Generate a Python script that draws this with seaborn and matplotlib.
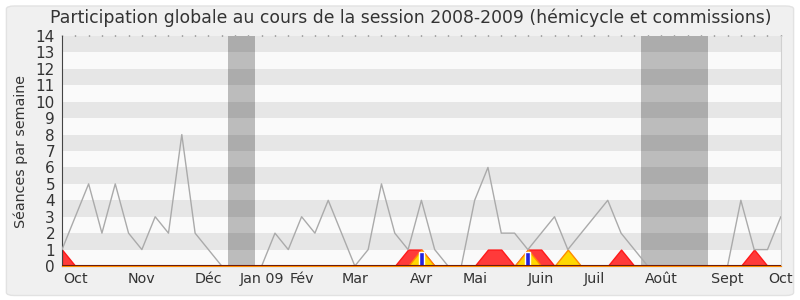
import numpy as np
import pandas as pd
import seaborn as sns
import matplotlib
matplotlib.use("Agg")
import matplotlib.pyplot as plt
from matplotlib.patches import FancyBboxPatch

nan = np.nan

# ---- data ----
weeks = list(range(55))
median_presence = [1, 3, 5, 2, 5, 2, 1, 3, 2, 8, 2, 1, 0, nan, nan,
                   0, 2, 1, 3, 2, 4, 2, 0, 1, 5, 2, 1, 4, 1, 0,
                   0, 4, 6, 2, 2, 1, 2, 3, 1, 2, 3, 4, 2, 1, 0,
                   nan, nan, nan, nan, nan, 0, 4, 1, 1, 3]
commission = [1, 0, 0, 0, 0, 0, 0, 0, 0, 0, 0, 0, 0, 0, 0,
              0, 0, 0, 0, 0, 0, 0, 0, 0, 0, 0, 1, 1, 0, 0,
              0, 0, 1, 1, 0, 1, 1, 0, 0, 0, 0, 0, 1, 0, 0,
              0, 0, 0, 0, 0, 0, 0, 1, 0, 0]
hemicycle = [0, 0, 0, 0, 0, 0, 0, 0, 0, 0, 0, 0, 0, 0, 0,
             0, 0, 0, 0, 0, 0, 0, 0, 0, 0, 0, 0, 1, 0, 0,
             0, 0, 0, 0, 0, 1, 0, 0, 1, 0, 0, 0, 0, 0, 0,
             0, 0, 0, 0, 0, 0, 0, 0, 0, 0]
interventions_weeks = [27, 35]
interventions_vals = [0.85, 0.85]
vacations = [(12.5, 14.5), (43.5, 48.5)]
month_labels = ["Oct", "Nov", "Déc", "Jan 09", "Fév", "Mar", "Avr", "Mai",
                "Juin", "Juil", "Août", "Sept", "Oct"]
month_pos = [1, 6, 11, 15, 18, 22, 27, 31, 36, 40, 45, 50, 54]

# segments for the median line (gaps preserved)
seg = []
s = 0
prev_nan = False
for v in median_presence:
    if np.isnan(v):
        prev_nan = True
        seg.append(-1)
    else:
        if prev_nan:
            s += 1
        prev_nan = False
        seg.append(s)
df = pd.DataFrame({"week": weeks, "val": median_presence, "seg": seg}).dropna()

sns.set_style("white")
plt.rcParams["font.family"] = ["DejaVu Sans"]

fig = plt.figure(figsize=(8, 3), dpi=100)
fig.patch.set_facecolor("white")
fig.patches.append(FancyBboxPatch((0.008, 0.015), 0.984, 0.965,
                                  boxstyle="round,pad=0,rounding_size=0.01",
                                  transform=fig.transFigure, facecolor="#f0f0f0",
                                  edgecolor="#e2e2e2", linewidth=1, zorder=-10))
ax = fig.add_axes([0.0775, 0.1133, 0.8985, 0.7667])
ax.set_facecolor("#fafafa")

ax.set_xlim(0, 54)
ax.set_ylim(0, 14)

# stripes
for y0 in range(1, 14, 2):
    ax.axhspan(y0, y0 + 1, color="#e6e6e6", lw=0, zorder=0)
# vacations
for (a, b) in vacations:
    ax.axvspan(a, b, color="#bcbcbc", lw=0, zorder=0.5)
    for y0 in range(1, 14, 2):
        ax.fill_between([a, b], y0, y0 + 1, color="#acacac", lw=0, zorder=0.6)

# fills
ax.fill_between(weeks, 0, commission, color="#ff3a3a", edgecolor="#ff1a1a",
                lw=1, zorder=2)
ax.fill_between(weeks, 0, hemicycle, color="#ffd700", edgecolor="#ff8c00",
                lw=1, zorder=3)
ax.bar(interventions_weeks, interventions_vals, width=0.36, color="#2424dd",
       zorder=4)

sns.lineplot(data=df, x="week", y="val", units="seg", estimator=None,
             color="#aaaaaa", lw=1, ax=ax, zorder=5)

ax.axhline(0, color="#6e1c0c", lw=1.5, zorder=6)

# axes styling
ax.spines["top"].set_visible(False)
ax.spines["right"].set_color("#d0d0d0")
ax.spines["left"].set_color("#444444")
ax.spines["bottom"].set_color("#6e1c0c")

ax.set_yticks(range(0, 15))
ax.set_yticklabels([str(i) for i in range(0, 15)], fontsize=11, color="#333333")
ax.tick_params(axis="y", direction="out", length=4, width=1, color="#444444", pad=1)

ax.set_xticks(weeks)
ax.set_xticklabels([])
ax.tick_params(axis="x", direction="out", length=4, width=1, color="#444444",
               top=True, labeltop=False)
# top dots: very short ticks on top
for line in ax.xaxis.get_ticklines()[1::2]:
    line.set_markersize(1)
    line.set_markeredgecolor("#666666")

for lab, p in zip(month_labels, month_pos):
    ax.text(p, -0.35, lab, ha="center", va="top", fontsize=10.3, color="#333333",
            clip_on=False)

ax.set_xlabel("")
ax.set_ylabel("Séances par semaine", fontsize=10.3, color="#333333")
ax.yaxis.set_label_coords(-0.047, 0.5)
fig.text(0.514, 0.94, "Participation globale au cours de la session 2008-2009 (hémicycle et commissions)",
         ha="center", va="center", fontsize=12.4, color="#333333")

fig.savefig("out.png", dpi=100, facecolor=fig.get_facecolor())
